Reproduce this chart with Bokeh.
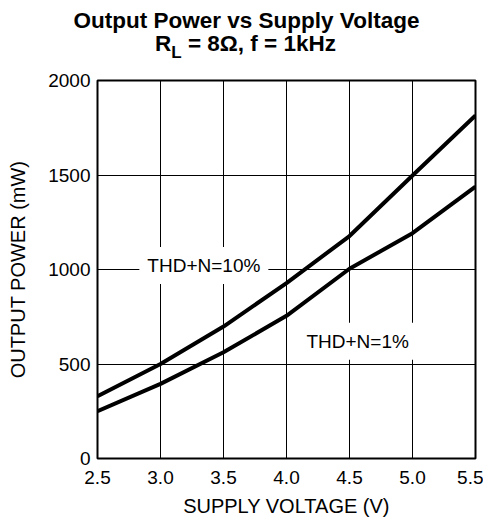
from bokeh.plotting import figure
from bokeh.models import Label, FixedTicker, Range1d, Div
from bokeh.layouts import column
from bokeh.embed import file_html
from bokeh.resources import INLINE

# ---- data ----
voltage = [2.5, 3.0, 3.5, 4.0, 4.5, 5.0, 5.5]
thd10_power = [330, 500, 698, 928, 1177, 1497, 1815]
thd1_power = [250, 395, 562, 755, 1004, 1192, 1439]
x_ticks = [2.5, 3.0, 3.5, 4.0, 4.5, 5.0, 5.5]
x_tick_labels = ["2.5", "3.0", "3.5", "4.0", "4.5", "5.0", "5.5"]
y_ticks = [0, 500, 1000, 1500, 2000]
y_tick_labels = ["0", "500", "1000", "1500", "2000"]
title_line1 = "Output Power vs Supply Voltage"
title_r = "R"
title_sub = "L"
title_rest = " = 8\u03a9, f = 1kHz"
label_10 = "THD+N=10%"
label_1 = "THD+N=1%"

FONT = "Liberation Sans"

title_html = (
    '<div style="position:relative;width:483px;height:70px;'
    "font-family:'Liberation Sans',Arial,sans-serif;font-weight:bold;"
    'font-size:22.5px;line-height:23px;color:#000;">'
    '<div style="position:absolute;left:5px;width:483px;top:9px;'
    'text-align:center;white-space:nowrap;">' + title_line1 + '</div>'
    '<div style="position:absolute;left:4px;width:483px;top:32px;'
    'text-align:center;white-space:nowrap;">' + title_r +
    '<span style="position:relative;top:7px;font-size:17px;">' + title_sub +
    '</span>' + title_rest + '</div></div>'
)
title_div = Div(text=title_html, width=483, height=70, margin=(0, 0, 0, 0))

p = figure(frame_width=378, frame_height=378,
           min_border_left=97, min_border_right=8,
           min_border_top=10, min_border_bottom=62,
           x_range=Range1d(2.5, 5.5), y_range=Range1d(0, 2000),
           output_backend="svg", toolbar_location=None, margin=(0, 0, 0, 0))

p.background_fill_color = "white"
p.border_fill_color = "white"
p.outline_line_color = "black"
p.outline_line_width = 2

for ax in (p.xaxis[0], p.yaxis[0]):
    ax.axis_line_color = None
    ax.major_tick_in = 0
    ax.major_tick_out = 0
    ax.minor_tick_line_color = None
    ax.major_label_text_font = FONT
    ax.major_label_text_font_size = "19px"
    ax.major_label_text_color = "black"
    ax.axis_label_text_font = FONT
    ax.axis_label_text_font_size = "20px"
    ax.axis_label_text_font_style = "normal"
    ax.axis_label_text_color = "black"

p.xaxis.ticker = FixedTicker(ticks=x_ticks)
p.yaxis.ticker = FixedTicker(ticks=y_ticks)
p.xaxis.major_label_overrides = {t: s for t, s in zip(x_ticks, x_tick_labels)}
p.yaxis.major_label_overrides = {t: s for t, s in zip(y_ticks, y_tick_labels)}
p.xaxis.major_label_standoff = 12
p.yaxis.major_label_standoff = 7
p.xaxis.axis_label = "SUPPLY VOLTAGE (V)"
p.yaxis.axis_label = "OUTPUT POWER (mW)"
p.xaxis.axis_label_standoff = 8
p.yaxis.axis_label_standoff = 16

p.xgrid.grid_line_color = "black"
p.ygrid.grid_line_color = "black"
p.xgrid.grid_line_width = 1
p.ygrid.grid_line_width = 1

p.line(voltage, thd10_power, line_color="black", line_width=4, line_join="round")
p.line(voltage, thd1_power, line_color="black", line_width=4, line_join="round")

# curve labels with white boxes
p.add_layout(Label(x=3.344, y=1021, text=label_10, text_align="center",
                   text_baseline="alphabetic", text_font=FONT,
                   text_font_size="19px", text_color="black",
                   background_fill_color="white", padding=8))
p.add_layout(Label(x=4.565, y=621, text=label_1, text_align="center",
                   text_baseline="alphabetic", text_font=FONT,
                   text_font_size="19px", text_color="black",
                   background_fill_color="white", padding=8))

layout = column(title_div, p, spacing=0)

open("out.html", "w").write(file_html(layout, INLINE))
